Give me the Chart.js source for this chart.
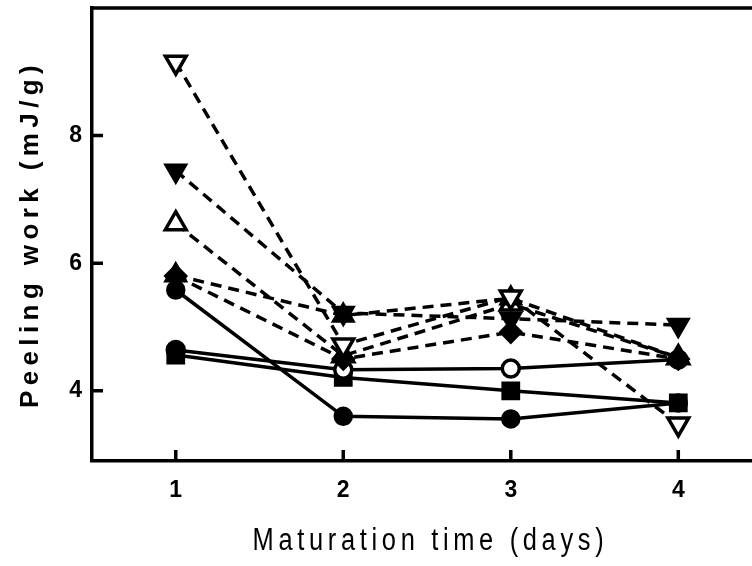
<!DOCTYPE html>
<html>
<head>
<meta charset="utf-8">
<script src="https://cdn.jsdelivr.net/npm/chart.js@4/dist/chart.umd.min.js"></script>
<style>
  html, body { margin: 0; padding: 0; background: #fff; }
  #wrap { width: 752px; height: 566px; position: relative; }
</style>
</head>
<body>
<div id="wrap"><canvas id="chart"></canvas></div>
<script>
// Maturation time (days) on x, peeling work (mJ/g) on y
const days = [1, 2, 3, 4];
const xTicks = [1, 2, 3, 4];
const yTicks = [4, 6, 8];

// dashed series
const openDown   = [9.15, 4.72, 5.47, 3.48];
const filledDown = [7.45, 5.22, 5.13, 5.03];
const openUp     = [6.62, 4.55, 5.36, 4.52];
const filledUp   = [5.81, 5.18, 5.45, 4.52];
const diamond    = [5.80, 4.50, 4.92, 4.50];

// solid series
const circleA    = [5.58, 3.60, 3.56, 3.81];
const circleOpen = [4.64, 4.33, 4.35, 4.49];
const square     = [4.56, 4.21, 4.00, 3.81];

const xTitle = 'Maturation time (days)';
const yTitle = 'Peeling work (mJ/g)';

function pts(vals) {
    return days.map((d, i) => ({ x: d, y: vals[i] }));
}

function series(vals, style, fill, dashed, extra) {
    return Object.assign({
        data: pts(vals),
        borderColor: '#000',
        borderWidth: 3.5,
        borderDash: dashed ? [11, 7] : [],
        pointStyle: style,
        pointRadius: 12,
        pointBorderWidth: 2.5,
        pointBorderColor: '#000',
        pointBackgroundColor: fill,
        tension: 0,
        fill: false
    }, extra || {});
}

// no extra label padding around the plot area
function noPad(s) {
    s.paddingTop = 0;
    s.paddingBottom = 0;
    s.paddingLeft = 0;
    s.paddingRight = 0;
}

// top frame line, inner tick marks and the two axis titles
const framePlugin = {
    id: 'frame',
    afterDraw(chart) {
        const { ctx, chartArea: a, scales: { x, y } } = chart;
        ctx.save();
        ctx.strokeStyle = '#000';
        ctx.lineWidth = 3.5;
        ctx.beginPath();
        ctx.moveTo(a.left - 1.75, a.top);
        ctx.lineTo(chart.width, a.top);
        xTicks.forEach(v => {
            const px = x.getPixelForValue(v);
            ctx.moveTo(px, a.bottom);
            ctx.lineTo(px, a.bottom - 11);
        });
        yTicks.forEach(v => {
            const py = y.getPixelForValue(v);
            ctx.moveTo(a.left, py);
            ctx.lineTo(a.left + 11, py);
        });
        ctx.stroke();

        ctx.fillStyle = '#000';
        ctx.textAlign = 'center';
        ctx.textBaseline = 'middle';

        ctx.save();
        ctx.translate(31, 237);
        ctx.rotate(-Math.PI / 2);
        ctx.font = 'bold 26px "Liberation Sans", Arial, sans-serif';
        ctx.letterSpacing = '5.4px';
        ctx.fillText(yTitle, 3, 0);
        ctx.restore();

        ctx.save();
        ctx.translate(428, 541);
        ctx.scale(0.82, 1);
        ctx.font = '31px "Liberation Sans", Arial, sans-serif';
        ctx.letterSpacing = '5.7px';
        ctx.fillText(xTitle, 3, 0);
        ctx.restore();
        ctx.restore();
    }
};

const tickFont = { family: '"Liberation Sans", Arial, sans-serif', size: 23, weight: 'bold' };

new Chart(document.getElementById('chart'), {
    type: 'line',
    data: {
        // earlier entries are painted on top
        datasets: [
            series(openDown, 'triangle', '#fff', true, { pointRotation: 180, pointBorderWidth: 3.5 }),
            series(filledDown, 'triangle', '#000', true, { pointRotation: 180 }),
            series(filledUp, 'triangle', '#000', true),
            series(diamond, 'rectRot', '#000', true, { pointRadius: 10.5 }),
            series(openUp, 'triangle', '#fff', true, { pointBorderWidth: 3.5 }),
            series(circleA, 'circle', '#000', false, { pointRadius: 8.5 }),
            series(circleOpen, 'circle', ['#000', '#fff', '#fff', '#fff'], false, { pointRadius: 8.5, pointBorderWidth: 3.5 }),
            series(square, 'rect', '#000', false, { pointRadius: 11.5 })
        ]
    },
    options: {
        responsive: true,
        maintainAspectRatio: false,
        animation: false,
        layout: { autoPadding: false, padding: { left: 0, right: 0, top: 8, bottom: 0 } },
        plugins: {
            legend: { display: false },
            tooltip: { enabled: false }
        },
        scales: {
            x: {
                type: 'linear',
                min: 0.5,
                max: 4.44,
                grid: { display: false, drawTicks: false },
                border: { display: true, color: '#000', width: 3.5 },
                afterBuildTicks: s => { s.ticks = xTicks.map(v => ({ value: v })); },
                afterFit: s => { s.height = 105; noPad(s); },
                ticks: { color: '#000', font: tickFont, padding: 16, maxRotation: 0 }
            },
            y: {
                type: 'linear',
                min: 2.9,
                max: 10,
                grid: { display: false, drawTicks: false },
                border: { display: true, color: '#000', width: 3.5 },
                afterBuildTicks: s => { s.ticks = yTicks.map(v => ({ value: v })); },
                afterFit: s => { s.width = 92; noPad(s); },
                ticks: { color: '#000', font: tickFont, padding: 10 }
            }
        }
    },
    plugins: [framePlugin]
});
</script>
</body>
</html>
